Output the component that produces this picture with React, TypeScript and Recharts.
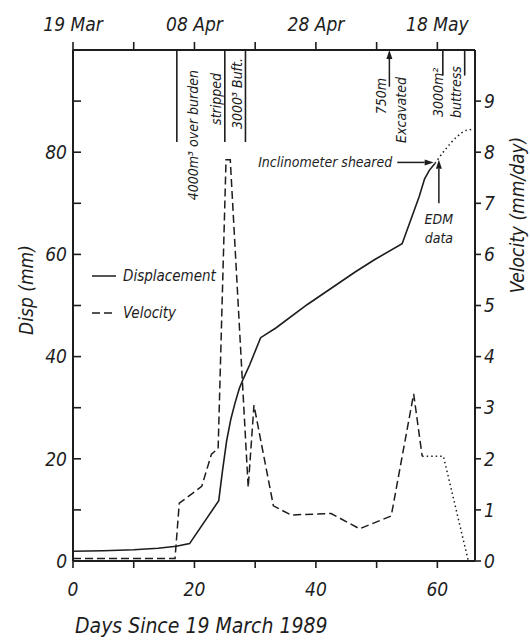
import React from 'react';
import { ComposedChart, Line, XAxis, YAxis, ReferenceLine, Legend } from 'recharts';

const FONT = "'DejaVu Sans Condensed', 'DejaVu Sans', sans-serif";
const INK = '#1d1d1d';

// inclinometer displacement (mm)
const dispDays = [0, 5, 10, 14, 17, 19.2, 24.0, 24.6, 25.3, 26.0, 26.7, 27.4, 28.1, 29.1, 30.9, 33.4, 38.6, 46.4, 49.7, 54.2, 57.0, 57.9, 58.7, 59.6];
const dispMm = [1.9, 2.0, 2.2, 2.5, 2.9, 3.4, 11.8, 17.5, 23.5, 27.8, 31.0, 33.8, 35.8, 38.4, 43.7, 45.6, 50.2, 56.5, 59.0, 62.1, 71.3, 74.8, 76.5, 77.8];
// after the inclinometer sheared (EDM data)
const edmDays = [59.6, 61.3, 63.2, 64.8, 66.2];
const edmMm = [77.8, 80.5, 83.0, 84.3, 84.5];

// velocity (mm/day)
const velDays = [0, 16.8, 17.5, 21.2, 22.8, 23.9, 25.2, 25.9, 28.85, 29.8, 33.0, 35.9, 42.5, 47.2, 52.4, 56.1, 57.5];
const velRate = [0.05, 0.05, 1.13, 1.46, 2.09, 2.2, 7.85, 7.85, 1.44, 3.05, 1.08, 0.9, 0.93, 0.63, 0.88, 3.27, 2.05];
const velTailDays = [57.5, 61.0, 65.1];
const velTailRate = [2.05, 2.05, 0];

const dayTicks = [0, 10, 20, 30, 40, 50, 60];
const dayLabels = ['0', '', '20', '', '40', '', '60'];
const dateLabels = ['19 Mar', '', '08 Apr', '', '28 Apr', '', '18 May'];
const dispTicks = [0, 10, 20, 30, 40, 50, 60, 70, 80, 90];
const dispLabels = ['0', '', '20', '', '40', '', '60', '', '80', ''];
const velTicks = [0, 1, 2, 3, 4, 5, 6, 7, 8, 9];

const rows = (xs: number[], ys: number[]) => xs.map((d, i) => ({ day: d, v: ys[i] }));
const dispData = rows(dispDays, dispMm);
const edmData = rows(edmDays, edmMm);
const velData = rows(velDays, velRate);
const velTailData = rows(velTailDays, velTailRate);

const lineWithHead = (p: any) => {
    const { x1, y1, x2, y2 } = p;
    const len = Math.hypot(x2 - x1, y2 - y1) || 1;
    const ux = (x2 - x1) / len, uy = (y2 - y1) / len;
    const bx = x2 - ux * 9, by = y2 - uy * 9;
    const pts = `${x2},${y2} ${bx - uy * 3},${by + ux * 3} ${bx + uy * 3},${by - ux * 3}`;
    return (
        <g>
            <line x1={x1} y1={y1} x2={bx} y2={by} stroke={INK} strokeWidth={1.5} />
            <polygon points={pts} fill={INK} />
        </g>
    );
};

const plainLine = (p: any) => <line x1={p.x1} y1={p.y1} x2={p.x2} y2={p.y2} stroke={INK} strokeWidth={1.6} />;

// rotated text pieces hung off a reference line's box
type Piece = { text: string; dx: number; dy: number; anchor: 'start' | 'end' | 'middle'; size?: number; rot?: boolean; fromBottom?: boolean };
const pieces = (list: Piece[]) => (props: any) => {
    const vb = props.viewBox || {};
    return (
        <g>
            {list.map((t, i) => {
                const x = vb.x + t.dx;
                const y = (t.fromBottom ? vb.y + (vb.height || 0) : vb.y) + t.dy;
                return (
                    <text key={i} x={x} y={y} textAnchor={t.anchor} fontSize={t.size || 14} fill={INK}
                          fontStyle="italic" fontFamily={FONT}
                          transform={t.rot === false ? undefined : `rotate(-90 ${x} ${y})`}>
                        {t.text}
                    </text>
                );
            })}
        </g>
    );
};

const renderLegend = (props: any) => {
    const items = (props.payload || []).filter((it: any) => it.type !== 'none');
    return (
        <svg width={150} height={62} style={{ overflow: 'visible' }}>
            {items.map((it: any, i: number) => (
                <g key={i}>
                    <line x1={4} x2={28} y1={14 + i * 37} y2={14 + i * 37} stroke={INK} strokeWidth={1.5}
                          strokeDasharray={it.payload && it.payload.strokeDasharray} />
                    <text x={35} y={19 + i * 37} fontSize={15} fill={INK} fontStyle="italic" fontFamily={FONT}>{it.value}</text>
                </g>
            ))}
        </svg>
    );
};

const axisTitle = (text: string, dx: number, dy: number, rot: boolean, size = 19) => (props: any) => {
    const vb = props.viewBox || {};
    const x = vb.x + dx, y = vb.y + dy;
    return (
        <text x={x} y={y} textAnchor={rot ? 'middle' : 'start'} fontSize={size} fill={INK} fontStyle="italic" fontFamily={FONT}
              transform={rot ? `rotate(-90 ${x} ${y})` : undefined}>{text}</text>
    );
};

const tickStyle = { fill: INK, fontSize: 19, fontStyle: 'italic', fontFamily: FONT };
const axisStroke = { stroke: INK, strokeWidth: 2 };
const tickStroke = { stroke: INK, strokeWidth: 1.6 };

export default function App() {
    return (
        <div style={{ position: 'absolute', left: 0, top: 0, width: 530, height: 640, background: '#fff', fontFamily: FONT, fontStyle: 'italic' }}>
            <ComposedChart width={530} height={640} margin={{ top: 49, right: 54, bottom: 78, left: 72 }}>
                <XAxis xAxisId="b" dataKey="day" type="number" domain={[0, 66.2]} ticks={dayTicks} interval={0} height={1}
                       allowDataOverflow tickSize={7} tickMargin={15} axisLine={axisStroke} tickLine={tickStroke} tick={tickStyle}
                       tickFormatter={(v: number) => dayLabels[dayTicks.indexOf(v)] ?? ''}
                       label={axisTitle('Days Since 19 March 1989', 2, 72, false, 21)} />
                <XAxis xAxisId="t" dataKey="day" type="number" orientation="top" domain={[0, 66.2]} ticks={dayTicks} interval={0} height={1}
                       allowDataOverflow tickSize={8} tickMargin={11} axisLine={axisStroke} tickLine={tickStroke} tick={tickStyle}
                       tickFormatter={(v: number) => dateLabels[dayTicks.indexOf(v)] ?? ''} />
                <YAxis yAxisId="disp" type="number" domain={[0, 100]} ticks={dispTicks} interval={0} width={1}
                       allowDataOverflow tickSize={-8} tickMargin={14} axisLine={axisStroke} tickLine={tickStroke} tick={tickStyle}
                       tickFormatter={(v: number) => dispLabels[dispTicks.indexOf(v)] ?? ''}
                       label={axisTitle('Disp (mm)', -39, 240, true)} />
                <YAxis yAxisId="vel" orientation="right" type="number" domain={[0, 10]} ticks={velTicks} interval={0} width={1}
                       allowDataOverflow tickSize={6} tickMargin={3} axisLine={axisStroke} tickLine={tickStroke} tick={tickStyle}
                       label={axisTitle('Velocity (mm/day)', 49, 165, true)} />

                <Legend content={renderLegend} layout="horizontal" verticalAlign="middle" align="center"
                        wrapperStyle={{ left: 88, top: 262, width: 150, height: 62 }} />

                <Line data={dispData} dataKey="v" name="Displacement" xAxisId="b" yAxisId="disp" type="linear"
                      stroke={INK} strokeWidth={1.6} dot={false} activeDot={false} isAnimationActive={false} />
                <Line data={velData} dataKey="v" name="Velocity" xAxisId="b" yAxisId="vel" type="linear"
                      stroke={INK} strokeWidth={1.5} strokeDasharray="8 4" dot={false} activeDot={false} isAnimationActive={false} />
                <Line data={edmData} dataKey="v" name="EDM" legendType="none" xAxisId="b" yAxisId="disp" type="monotone"
                      stroke={INK} strokeWidth={1.5} strokeDasharray="1.5 3" dot={false} activeDot={false} isAnimationActive={false} />
                <Line data={velTailData} dataKey="v" name="Velocity (EDM)" legendType="none" xAxisId="b" yAxisId="vel" type="linear"
                      stroke={INK} strokeWidth={1.5} strokeDasharray="1.5 3" dot={false} activeDot={false} isAnimationActive={false} />

                {/* construction events */}
                <ReferenceLine xAxisId="b" yAxisId="disp" ifOverflow="visible" segment={[{ x: 17.1, y: 100 }, { x: 17.1, y: 82 }]}
                               shape={plainLine}
                               label={pieces([
                                   { text: '4000m³ over burden', dx: 21, dy: 20, anchor: 'end' },
                                   { text: 'stripped', dx: 44, dy: 23, anchor: 'end' },
                               ])} />
                <ReferenceLine xAxisId="b" yAxisId="disp" ifOverflow="visible" segment={[{ x: 25.0, y: 100 }, { x: 25.0, y: 82 }]}
                               shape={plainLine}
                               label={pieces([{ text: '3000³ Buft.', dx: 17, dy: 8, anchor: 'end' }])} />
                <ReferenceLine xAxisId="b" yAxisId="disp" ifOverflow="visible" segment={[{ x: 28.4, y: 100 }, { x: 28.4, y: 82 }]}
                               shape={plainLine} />
                <ReferenceLine xAxisId="b" yAxisId="disp" ifOverflow="visible" segment={[{ x: 52.1, y: 92.8 }, { x: 52.1, y: 100 }]}
                               shape={lineWithHead}
                               label={pieces([
                                   { text: '750m', dx: -3, dy: 28, anchor: 'end' },
                                   { text: 'Excavated', dx: 17, dy: 27, anchor: 'end' },
                               ])} />
                <ReferenceLine xAxisId="b" yAxisId="disp" ifOverflow="visible" segment={[{ x: 60.9, y: 100 }, { x: 60.9, y: 95 }]}
                               shape={plainLine}
                               label={pieces([
                                   { text: '3000m²', dx: 0, dy: 67, anchor: 'start' },
                                   { text: 'buttress', dx: 18, dy: 68, anchor: 'start' },
                               ])} />
                <ReferenceLine xAxisId="b" yAxisId="disp" ifOverflow="visible" segment={[{ x: 64.5, y: 100 }, { x: 64.5, y: 95 }]}
                               shape={plainLine} />

                {/* instrument notes */}
                <ReferenceLine xAxisId="b" yAxisId="disp" ifOverflow="visible" segment={[{ x: 53.4, y: 78 }, { x: 59.4, y: 78 }]}
                               shape={lineWithHead}
                               label={pieces([{ text: 'Inclinometer sheared', dx: -5, dy: 5, anchor: 'end', size: 14, rot: false }])} />
                <ReferenceLine xAxisId="b" yAxisId="disp" ifOverflow="visible" segment={[{ x: 60.25, y: 70 }, { x: 60.25, y: 78.5 }]}
                               shape={lineWithHead}
                               label={pieces([
                                   { text: 'EDM', dx: 0, dy: 21, anchor: 'middle', size: 14, rot: false, fromBottom: true },
                                   { text: 'data', dx: 0, dy: 40, anchor: 'middle', size: 14, rot: false, fromBottom: true },
                               ])} />
            </ComposedChart>
        </div>
    );
}
